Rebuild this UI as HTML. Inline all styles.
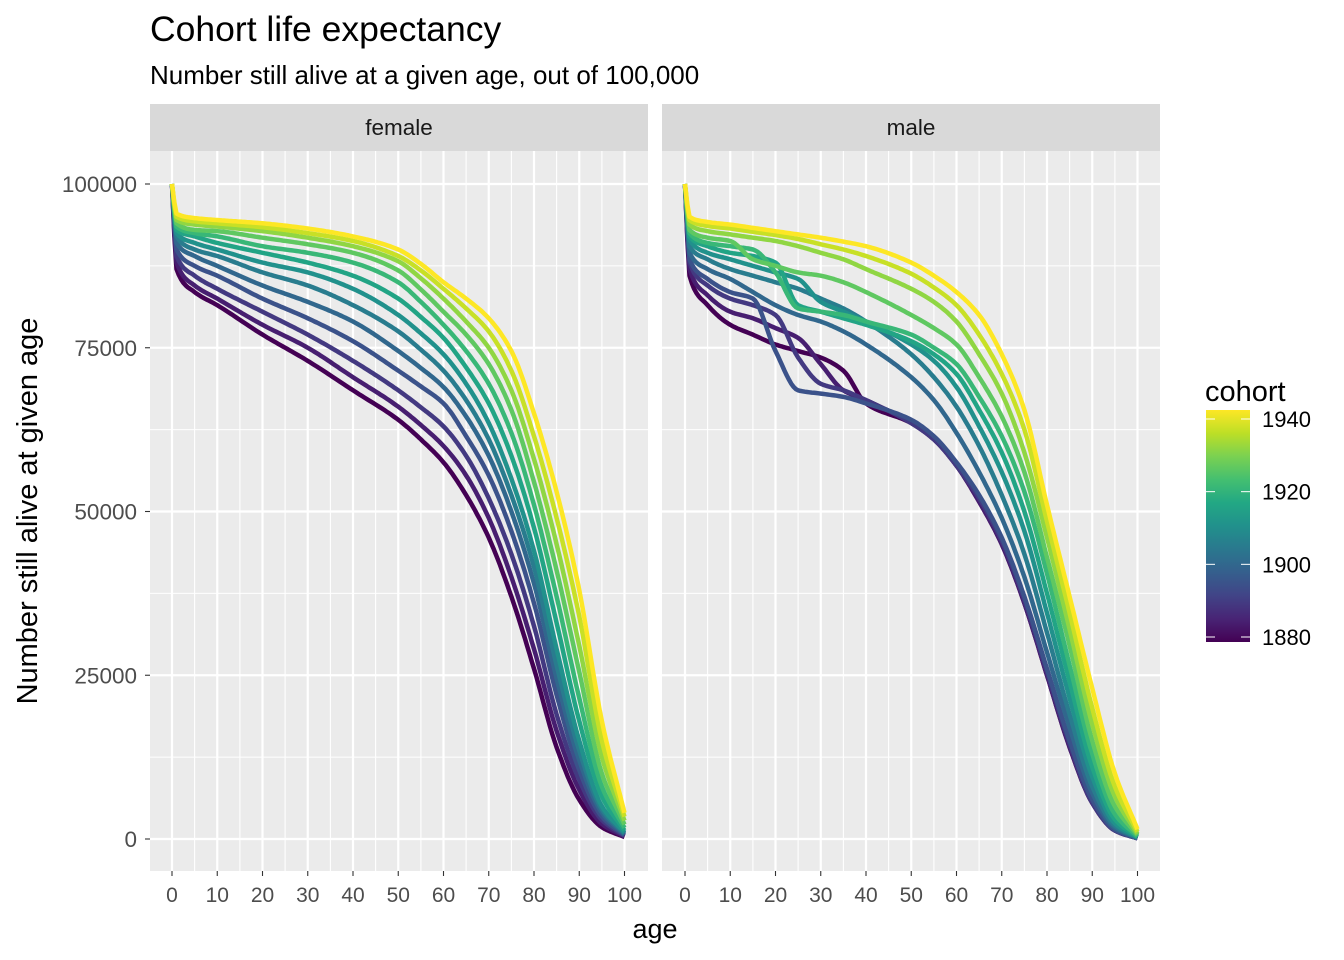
<!DOCTYPE html>
<html><head><meta charset="utf-8"><style>
body{margin:0;background:#fff;}
svg{display:block;font-family:"Liberation Sans",Arial,sans-serif;}
</style></head><body>
<svg id="chart" width="1344" height="960" viewBox="0 0 1344 960" xmlns="http://www.w3.org/2000/svg">
<defs>
<linearGradient id="vir" x1="0" y1="1" x2="0" y2="0">
<stop offset="0" stop-color="#440154"/><stop offset="0.1" stop-color="#482475"/><stop offset="0.2" stop-color="#414487"/><stop offset="0.3" stop-color="#355f8d"/><stop offset="0.4" stop-color="#2a788e"/><stop offset="0.5" stop-color="#21918c"/><stop offset="0.6" stop-color="#22a884"/><stop offset="0.7" stop-color="#44bf70"/><stop offset="0.8" stop-color="#7ad151"/><stop offset="0.9" stop-color="#bddf26"/><stop offset="1" stop-color="#fde725"/>
</linearGradient>
</defs>
<text x="150" y="41" font-size="35.5" fill="#000">Cohort life expectancy</text>
<text x="150" y="84" font-size="26" fill="#000">Number still alive at a given age, out of 100,000</text>
<g id="panels"></g>
<text x="655" y="938" font-size="27" text-anchor="middle" fill="#000">age</text>
<text transform="translate(37,511) rotate(-90)" font-size="29" text-anchor="middle" fill="#000">Number still alive at given age</text>
<g>
<text x="1205" y="401" font-size="29" fill="#000">cohort</text>
<rect x="1206" y="410" width="44" height="232" fill="url(#vir)"/>
<g id="legticks"></g>
</g>
</svg>
<script>
const ages = [0,1,5,10,20,30,40,50,55,60,65,70,75,80,85,90,95,100];
const maleAges = [0,1,5,10,15,20,25,30,35,40,50,55,60,65,70,75,80,85,90,95,100];
const cohorts = [1880,1885,1890,1895,1900,1905,1910,1915,1920,1925,1930,1935,1940];
const female1880 = [100000,87000,83500,81500,77000,73000,68500,64000,61000,57500,52500,46000,37000,26000,14000,6000,1800,300];
const female1885 = [100000,88000,84500,82500,78500,75000,70500,66000,63200,60000,55500,49000,40000,29000,16500,7500,2300,400];
const female1890 = [100000,89000,86000,84000,80500,77000,73000,68500,65900,63000,58500,52000,43500,32500,19000,9000,2900,500];
const female1895 = [100000,90000,87500,86000,82500,79500,76000,71500,69100,66500,61500,55500,47000,36000,22000,10500,3400,600];
const female1900 = [100000,91000,89000,87500,84500,82000,79000,74500,71900,69000,64500,58500,50000,39000,24500,12000,4000,700];
const female1905 = [100000,92000,90000,89000,86500,84500,81500,77500,74700,71500,67000,61000,52500,41500,26500,13500,4500,850];
const female1910 = [100000,92500,91000,90000,88000,86500,84000,80000,77200,74000,69500,63500,55000,44000,29000,15000,5000,1000];
const female1915 = [100000,93000,92000,91000,89500,88000,86000,82500,79700,76500,72000,66500,58500,47500,33000,18000,6500,1300];
const female1920 = [100000,93500,92500,92000,90500,89500,88000,85000,82000,78500,74500,69500,62000,51000,37000,21500,8000,1700];
const female1925 = [100000,94000,93000,92800,91800,90800,89500,86800,83900,80500,77000,72500,65500,54500,41000,25500,10000,2200];
const female1930 = [100000,94500,93800,93500,92800,91800,90500,88200,85600,82500,79000,75000,68500,58000,45000,29500,12500,2800];
const female1935 = [100000,95000,94300,94000,93400,92500,91300,89000,86800,84000,81000,77500,71500,61500,49000,34000,15000,3400];
const female1940 = [100000,95500,94800,94500,94000,93200,92000,90000,87800,85000,82500,79500,74500,65000,53000,38000,18000,4000];
const male1880 = [100000,86000,81500,78500,77000,75500,74500,73500,71500,66500,63500,61000,57000,51500,45000,36000,25000,14000,5500,1300,100];
const male1885 = [100000,87000,83000,80500,79500,78000,76500,72500,68500,67000,63500,61000,57000,51500,45000,36000,25000,14000,5500,1300,100];
const male1890 = [100000,88000,84500,82500,81500,80000,73500,69500,68500,67000,63500,61000,57000,52000,45500,36500,25500,14500,5500,1300,100];
const male1895 = [100000,88500,85500,83500,82500,74500,68500,68000,67500,66500,64000,61500,57500,52500,46000,37000,26000,15000,6000,1400,100];
const male1900 = [100000,89500,87000,85500,83500,81500,80000,79000,77500,75500,70500,67000,62000,56000,49000,40000,28500,17000,7000,1700,150];
const male1905 = [100000,90500,88500,87000,86000,85000,84000,82500,81000,79000,74000,70500,66000,60000,52500,43500,31500,19000,8000,2000,200];
const male1910 = [100000,91500,89500,88500,87500,86500,85500,82000,80500,79000,75500,73000,69000,63000,56000,47000,34500,21500,9500,2400,250];
const male1915 = [100000,92000,90500,89500,89000,88000,81500,80500,79500,78500,76000,74000,71000,65500,59000,50000,37500,24000,11000,3000,300];
const male1920 = [100000,92500,91000,90500,90000,86500,81000,80500,80000,79000,77000,75000,72500,67500,61500,53000,40500,26500,13000,3800,400];
const male1925 = [100000,93000,91800,91300,88500,87500,86500,86000,85000,83500,80000,78000,75500,70500,64500,56000,43000,29500,15000,5000,600];
const male1930 = [100000,93800,92800,92300,91800,91300,90500,89500,88500,87000,84000,82000,79000,74000,68000,59000,46000,32000,17500,6500,800];
const male1935 = [100000,94500,93600,93200,92700,92200,91600,90800,90000,89000,86300,84200,81500,77000,71000,62500,48500,34500,20000,8000,1100];
const male1940 = [100000,95000,94200,93800,93300,92800,92300,91800,91200,90500,88000,86000,83500,80000,74000,65500,51000,37000,23000,10000,1500];
const femaleSeries = [female1880,female1885,female1890,female1895,female1900,female1905,female1910,female1915,female1920,female1925,female1930,female1935,female1940];
const maleSeries = [male1880,male1885,male1890,male1895,male1900,male1905,male1910,male1915,male1920,male1925,male1930,male1935,male1940];
const xTicks = [0,10,20,30,40,50,60,70,80,90,100];
const yTicks = [0,25000,50000,75000,100000];
const legendTicks = [1880,1900,1920,1940];

const NS = "http://www.w3.org/2000/svg";
function mk(tag, attrs, parent){const e=document.createElementNS(NS,tag);for(const k in attrs)e.setAttribute(k,attrs[k]);parent.appendChild(e);return e;}
const stops=["#440154","#482475","#414487","#355f8d","#2a788e","#21918c","#22a884","#44bf70","#7ad151","#bddf26","#fde725"];
function hex(h){return [1,3,5].map(i=>parseInt(h.substr(i,2),16));}
function viridis(t){t=Math.max(0,Math.min(1,t));const p=t*10,i=Math.min(9,Math.floor(p)),f=p-i;const a=hex(stops[i]),b=hex(stops[i+1]);return "rgb("+a.map((v,k)=>Math.round(v+(b[k]-v)*f)).join(",")+")";}
function monotone(xs,ys){const n=xs.length,d=[],m=[];for(let i=0;i<n-1;i++)d.push((ys[i+1]-ys[i])/(xs[i+1]-xs[i]));m[0]=d[0];m[n-1]=d[n-2];for(let i=1;i<n-1;i++){if(d[i-1]*d[i]<=0)m[i]=0;else{const w1=2*(xs[i+1]-xs[i])+(xs[i]-xs[i-1]),w2=(xs[i+1]-xs[i])+2*(xs[i]-xs[i-1]);m[i]=(w1+w2)/(w1/d[i-1]+w2/d[i]);}}
return function(x){let i=0;while(i<n-2&&x>xs[i+1])i++;const h=xs[i+1]-xs[i],t=(x-xs[i])/h,t2=t*t,t3=t2*t;return (2*t3-3*t2+1)*ys[i]+(t3-2*t2+t)*h*m[i]+(-2*t3+3*t2)*ys[i+1]+(t3-t2)*h*m[i+1];};}

const y0=151,y1=871;
const yScale=v=>839-v/100000*655;
const panels=[{name:"female",px:150,x0:172,ageArr:ages,series:femaleSeries},{name:"male",px:662,x0:685,ageArr:maleAges,series:maleSeries}];
const root=document.getElementById("panels");
panels.forEach(p=>{
  const xScale=a=>p.x0+a*4.525;
  const g=mk("g",{},root);
  
  
  const bg=mk("rect",{x:p.px,y:y0,width:498,height:y1-y0,fill:"#ebebeb"},g);
  
  
  const strip=mk("rect",{x:p.px,y:104,width:498,height:47,fill:"#d9d9d9"},g);
  
  
  const st=mk("text",{x:p.px+249,y:135,"font-size":22.5,"text-anchor":"middle",fill:"#1a1a1a"},g);
  st.textContent=p.name;
  
  
  for(let a=5;a<=100;a+=10){mk("line",{x1:xScale(a),x2:xScale(a),y1:y0,y2:y1,stroke:"#fff","stroke-width":1.1},g);}
  for(let v=12500;v<=100000;v+=25000){mk("line",{x1:p.px,x2:p.px+498,y1:yScale(v),y2:yScale(v),stroke:"#fff","stroke-width":1.1},g);}
  xTicks.forEach(a=>{const l=mk("line",{x1:xScale(a),x2:xScale(a),y1:y0,y2:y1,stroke:"#fff","stroke-width":2.2},g);
    
    
    mk("line",{x1:xScale(a),x2:xScale(a),y1:y1,y2:y1+5,stroke:"#333","stroke-width":1.1},g);
    const t=mk("text",{x:xScale(a),y:902,"font-size":21,"text-anchor":"middle",fill:"#4d4d4d"},g);t.textContent=a;
    
    });
  yTicks.forEach(v=>{const l=mk("line",{x1:p.px,x2:p.px+498,y1:yScale(v),y2:yScale(v),stroke:"#fff","stroke-width":2.2},g);
    
    });
  p.series.forEach((s,ci)=>{
    const f=monotone(p.ageArr,s);let d="";
    for(let a=0;a<=100;a+=0.5){d+=(a?"L":"M")+xScale(a).toFixed(1)+","+yScale(f(a)).toFixed(1);}
    const path=mk("path",{d:d,fill:"none",stroke:viridis((cohorts[ci]-1880)/60),"stroke-width":4.5,"stroke-linejoin":"round"},g);
    
    
  });
});
const ax=document.getElementById("panels");
yTicks.forEach(v=>{
  mk("line",{x1:145,x2:150,y1:yScale(v),y2:yScale(v),stroke:"#333","stroke-width":1.1},ax);
  const t=mk("text",{x:137,y:yScale(v)+8,"font-size":22.5,"text-anchor":"end",fill:"#4d4d4d"},ax);t.textContent=v;
  
  
});
const lt=document.getElementById("legticks");
legendTicks.forEach(c=>{
  const y=637-(c-1880)/60*218;
  mk("line",{x1:1206,x2:1215,y1:y,y2:y,stroke:"#fff","stroke-width":1},lt);
  mk("line",{x1:1241,x2:1250,y1:y,y2:y,stroke:"#fff","stroke-width":1},lt);
  const t=mk("text",{x:1262,y:y+8,"font-size":22,fill:"#000"},lt);t.textContent=c;
  
  
});
</script>
</body></html>
